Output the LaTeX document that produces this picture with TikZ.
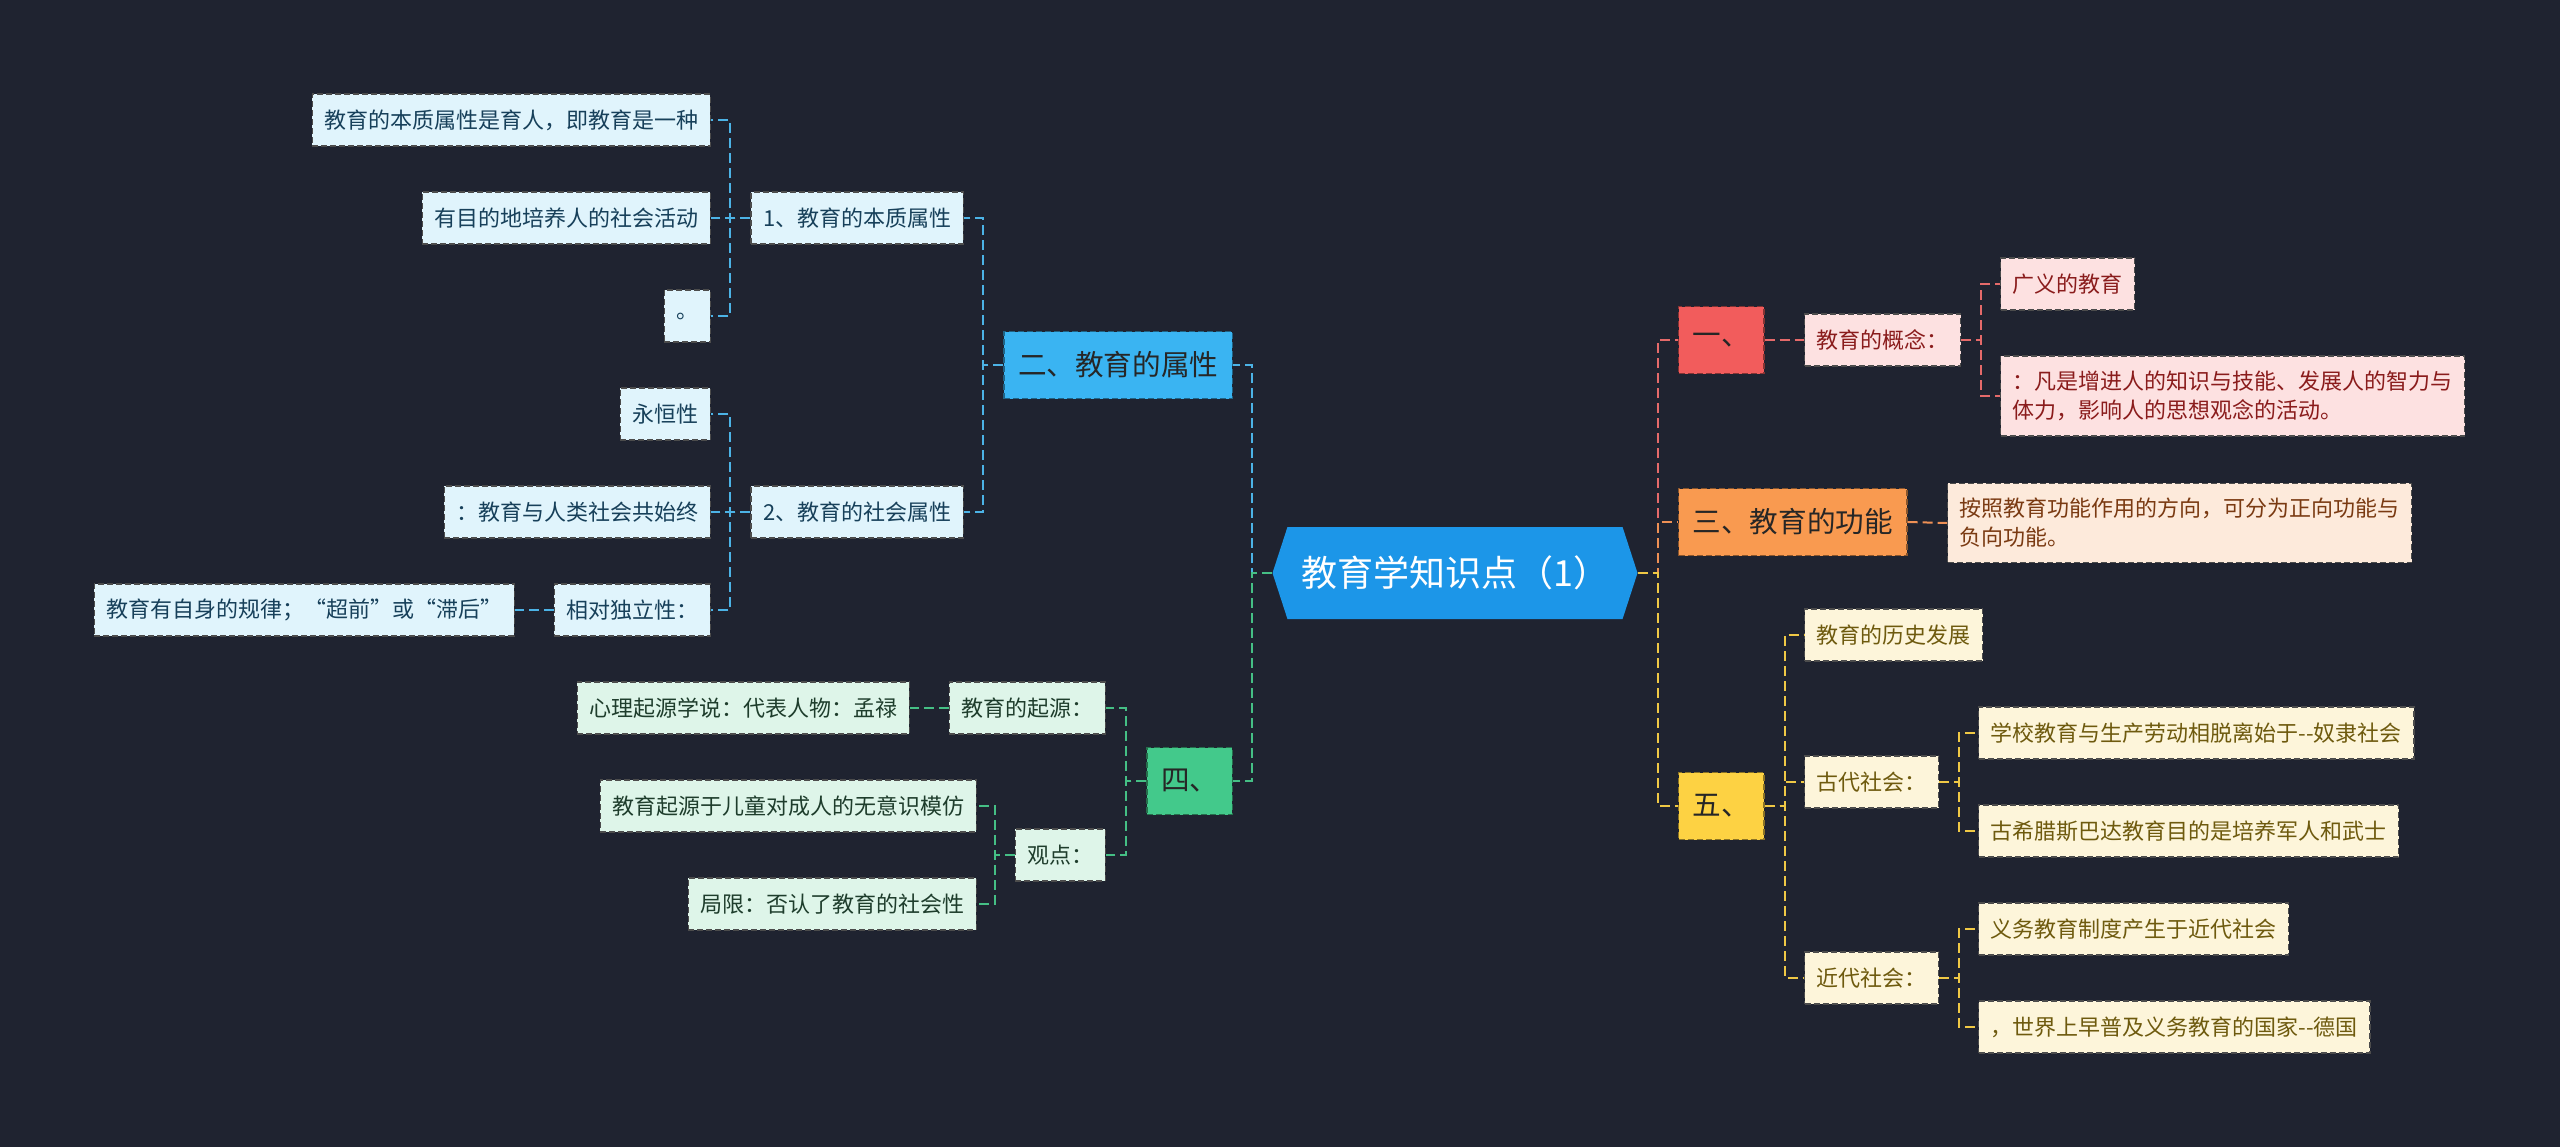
\documentclass[tikz,border=0pt]{standalone}
\usepackage{fontspec}
\setmainfont{Noto Sans CJK SC}
\usetikzlibrary{shapes.symbols}

\definecolor{bg}{HTML}{1F2330}
\definecolor{rootblue}{HTML}{1C96E8}
\definecolor{bluemain}{HTML}{3AB4F2}
\definecolor{bluelight}{HTML}{E0F4FC}
\definecolor{bluetext}{HTML}{17405A}
\definecolor{blueline}{HTML}{4CB3E6}
\definecolor{redmain}{HTML}{F25C5C}
\definecolor{redlight}{HTML}{FDE1E1}
\definecolor{redtext}{HTML}{8A1C1C}
\definecolor{redline}{HTML}{E56A6A}
\definecolor{orangemain}{HTML}{F99A50}
\definecolor{orangelight}{HTML}{FDEADB}
\definecolor{orangetext}{HTML}{7A3A12}
\definecolor{orangeline}{HTML}{EE9055}
\definecolor{yellowmain}{HTML}{FDD243}
\definecolor{yellowlight}{HTML}{FDF5DA}
\definecolor{yellowtext}{HTML}{6E5A0E}
\definecolor{yellowline}{HTML}{EFC845}
\definecolor{greenmain}{HTML}{43C98B}
\definecolor{greenlight}{HTML}{DEF5E9}
\definecolor{greentext}{HTML}{1E3D2C}
\definecolor{greenline}{HTML}{45BF85}

\tikzset{
  root/.style={signal, signal to=west and east, signal pointer angle=144,
    fill=rootblue, text=white, font=\fontsize{18}{21}\selectfont,
    minimum width=182.5pt, minimum height=46pt, inner xsep=4pt},
  topnode/.style={rectangle, fill=#1, draw=#1!55!black, dash pattern=on 3pt off 1.5pt,
    line width=0.7pt, text=black!85, font=\fontsize{14.3}{17}\selectfont,
    minimum height=33.5pt, inner xsep=7pt, inner ysep=0pt},
  leaf/.style 2 args={rectangle, fill=#1, draw=black!70, dash pattern=on 3pt off 1.5pt,
    line width=0.7pt, text=#2, font=\fontsize{11}{14.5}\selectfont, align=left,
    minimum height=26pt, inner xsep=6pt, inner ysep=7.5pt},
  link/.style={draw=#1, line width=1pt, dash pattern=on 5pt off 2.5pt}
}

\begin{document}
\begin{tikzpicture}[x=0.5pt, y=-0.5pt]
\fill[bg] (0,0) rectangle (2560,1147);
\useasboundingbox (0,0) rectangle (2560,1147);

\node[root] (root) at (1455,573) {教育学知识点（1）};

% 二
\node[topnode=bluemain, anchor=east] (shuxing) at (1233,365) {二、教育的属性};
\node[leaf={bluelight}{bluetext}, anchor=east] (benzhi) at (964,218) {1、教育的本质属性};
\node[leaf={bluelight}{bluetext}, anchor=east] (shehui) at (964,512) {2、教育的社会属性};
\node[leaf={bluelight}{bluetext}, anchor=east] (bz1) at (711,120) {教育的本质属性是育人，即教育是一种};
\node[leaf={bluelight}{bluetext}, anchor=east] (bz2) at (711,218) {有目的地培养人的社会活动};
\node[leaf={bluelight}{bluetext}, anchor=east] (bz3) at (711,316) {。};
\node[leaf={bluelight}{bluetext}, anchor=east] (sh1) at (711,414) {永恒性};
\node[leaf={bluelight}{bluetext}, anchor=east] (sh2) at (711,512) {：教育与人类社会共始终};
\node[leaf={bluelight}{bluetext}, anchor=east] (sh3) at (711,610) {相对独立性：};
\node[leaf={bluelight}{bluetext}, anchor=east] (sh3a) at (515,610) {教育有自身的规律；“超前”或“滞后”};

% 四
\node[topnode=greenmain, anchor=east] (si) at (1233,781) {四、};
\node[leaf={greenlight}{greentext}, anchor=east] (qiyuan) at (1106,708) {教育的起源：};
\node[leaf={greenlight}{greentext}, anchor=east] (guandian) at (1106,855) {观点：};
\node[leaf={greenlight}{greentext}, anchor=east] (qy1) at (910,708) {心理起源学说：代表人物：孟禄};
\node[leaf={greenlight}{greentext}, anchor=east] (gd1) at (977,806) {教育起源于儿童对成人的无意识模仿};
\node[leaf={greenlight}{greentext}, anchor=east] (gd2) at (977,904) {局限：否认了教育的社会性};

% 一
\node[topnode=redmain, anchor=west] (yi) at (1678,340) {一、};
\node[leaf={redlight}{redtext}, anchor=west] (gainian) at (1804,340) {教育的概念：};
\node[leaf={redlight}{redtext}, anchor=west] (gn1) at (2000,284) {广义的教育};
\node[leaf={redlight}{redtext}, anchor=west] (gn2) at (2000,396) {：凡是增进人的知识与技能、发展人的智力与\\体力，影响人的思想观念的活动。};

% 三
\node[topnode=orangemain, anchor=west] (san) at (1678,522) {三、教育的功能};
\node[leaf={orangelight}{orangetext}, anchor=west] (gongneng) at (1947,523) {按照教育功能作用的方向，可分为正向功能与\\负向功能。};

% 五
\node[topnode=yellowmain, anchor=west] (wu) at (1678,806) {五、};
\node[leaf={yellowlight}{yellowtext}, anchor=west] (lishi) at (1804,635) {教育的历史发展};
\node[leaf={yellowlight}{yellowtext}, anchor=west] (gudai) at (1804,782) {古代社会：};
\node[leaf={yellowlight}{yellowtext}, anchor=west] (jindai) at (1804,978) {近代社会：};
\node[leaf={yellowlight}{yellowtext}, anchor=west] (gu1) at (1978,733) {学校教育与生产劳动相脱离始于-{}-奴隶社会};
\node[leaf={yellowlight}{yellowtext}, anchor=west] (gu2) at (1978,831) {古希腊斯巴达教育目的是培养军人和武士};
\node[leaf={yellowlight}{yellowtext}, anchor=west] (jin1) at (1978,929) {义务教育制度产生于近代社会};
\node[leaf={yellowlight}{yellowtext}, anchor=west] (jin2) at (1978,1027) {，世界上早普及义务教育的国家-{}-德国};

\draw[link=blueline] (root.west) -- ++(-20,0) |- (shuxing.east);
\draw[link=greenline] (root.west) -- ++(-20,0) |- (si.east);
\draw[link=blueline] (shuxing.west) -- ++(-20,0) |- (benzhi.east);
\draw[link=blueline] (shuxing.west) -- ++(-20,0) |- (shehui.east);
\draw[link=blueline] (benzhi.west) -- ++(-20,0) |- (bz1.east);
\draw[link=blueline] (benzhi.west) -- ++(-20,0) |- (bz2.east);
\draw[link=blueline] (benzhi.west) -- ++(-20,0) |- (bz3.east);
\draw[link=blueline] (shehui.west) -- ++(-20,0) |- (sh1.east);
\draw[link=blueline] (shehui.west) -- ++(-20,0) |- (sh2.east);
\draw[link=blueline] (shehui.west) -- ++(-20,0) |- (sh3.east);
\draw[link=blueline] (sh3.west) -- (sh3a.east);
\draw[link=greenline] (si.west) -- ++(-20,0) |- (qiyuan.east);
\draw[link=greenline] (si.west) -- ++(-20,0) |- (guandian.east);
\draw[link=greenline] (qiyuan.west) -- (qy1.east);
\draw[link=greenline] (guandian.west) -- ++(-20,0) |- (gd1.east);
\draw[link=greenline] (guandian.west) -- ++(-20,0) |- (gd2.east);
\draw[link=redline] (root.east) -- ++(20,0) |- (yi.west);
\draw[link=orangeline] (root.east) -- ++(20,0) |- (san.west);
\draw[link=yellowline] (root.east) -- ++(20,0) |- (wu.west);
\draw[link=redline] (yi.east) -- (gainian.west);
\draw[link=redline] (gainian.east) -- ++(20,0) |- (gn1.west);
\draw[link=redline] (gainian.east) -- ++(20,0) |- (gn2.west);
\draw[link=orangeline] (san.east) -- (gongneng.west);
\draw[link=yellowline] (wu.east) -- ++(20,0) |- (lishi.west);
\draw[link=yellowline] (wu.east) -- ++(20,0) |- (gudai.west);
\draw[link=yellowline] (wu.east) -- ++(20,0) |- (jindai.west);
\draw[link=yellowline] (gudai.east) -- ++(20,0) |- (gu1.west);
\draw[link=yellowline] (gudai.east) -- ++(20,0) |- (gu2.west);
\draw[link=yellowline] (jindai.east) -- ++(20,0) |- (jin1.west);
\draw[link=yellowline] (jindai.east) -- ++(20,0) |- (jin2.west);
\end{tikzpicture}
\end{document}
